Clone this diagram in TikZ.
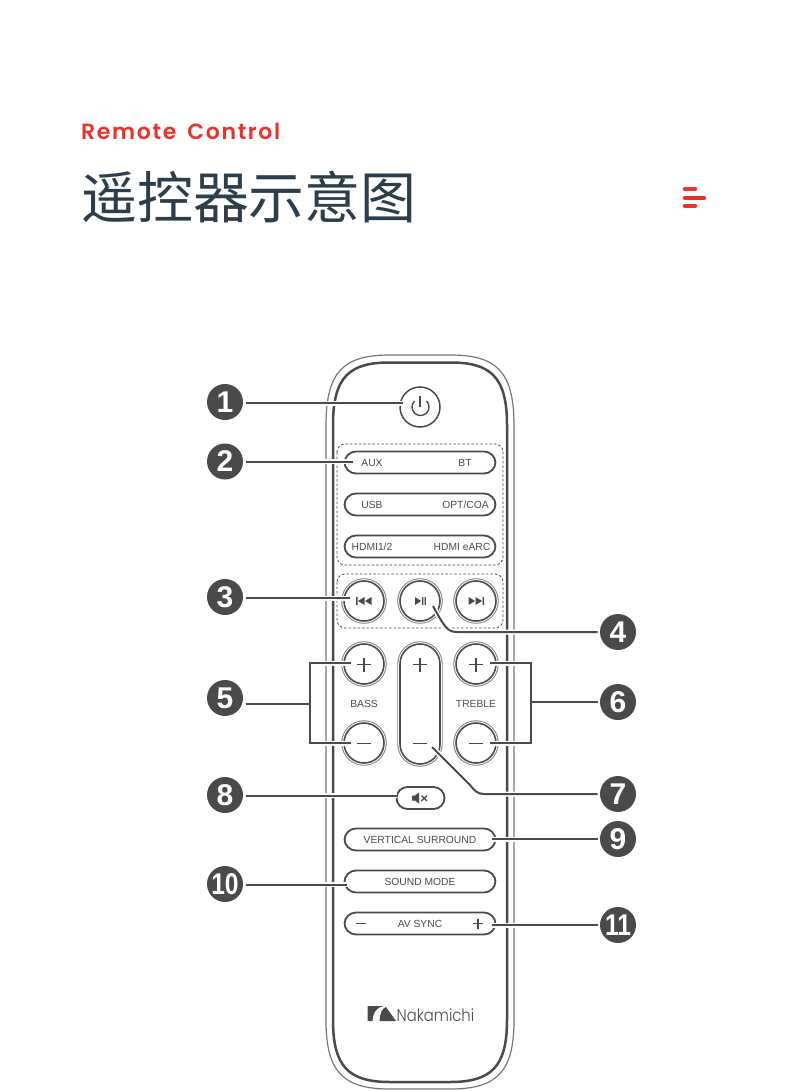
\documentclass[tikz,border=0pt]{standalone}
\usepackage{fontspec}
\setmainfont{Liberation Sans}
\newfontfamily\popfont[LetterSpace=7.5,WordSpace=1.6]{Poppins SemiBold}
\newfontfamily\logofont{Poppins Light}
\newfontfamily\cjkfont{Noto Sans CJK SC}
\definecolor{ink}{HTML}{4A4A4A}
\definecolor{redc}{HTML}{E8332A}
\definecolor{slatec}{HTML}{2D3E4A}
\tikzset{
  numdot/.style={circle,fill=ink,text=white,minimum size=36pt,inner sep=0pt,font=\bfseries\fontsize{30}{30}\selectfont,outer sep=2.5pt},
  pill/.style={draw=ink,line width=1.8pt,rounded corners=11.5pt,minimum width=151pt,minimum height=22pt,inner sep=0pt,fill=white},
  ringed/.style={preaction={draw=ink!75,line width=5.4pt},preaction={draw=white,line width=3.6pt},draw=ink,fill=white,line width=1.6pt,inner sep=0pt},
  roundbtn/.style={circle,ringed,minimum size=40pt},
  lbl/.style={text=ink,font=\fontsize{10.3}{12}\selectfont,inner sep=0pt,anchor=base},
  sym/.style={draw=ink,line width=1.1pt},
  zone/.style={draw=ink,line width=.8pt,dash pattern=on 2.5pt off 2pt,rounded corners=8pt},
  lead/.style={draw=ink,line width=2pt,preaction={draw=white,line width=5pt}},
}
\begin{document}
\begin{tikzpicture}[x=1pt,y=-1pt]
\useasboundingbox (0,0) rectangle (790,1091);
\fill[white] (0,0) rectangle (790,1091);
% heading
\node[anchor=base west,inner sep=0pt,text=redc] (sub) at (81,139.5) {\popfont\fontsize{22}{24}\selectfont Remote Control};
\node[anchor=base west,inner sep=0pt,text=slatec] (ttl) at (81,218.5) {\cjkfont\fontsize{55.9}{60}\selectfont 遥控器示意图};
\draw[redc,line width=4.5pt,line cap=round] (685,189) -- (695,189);
\draw[redc,line width=4.5pt,line cap=round] (685,198) -- (704,198);
\draw[redc,line width=4.5pt,line cap=round] (685,206) -- (695,206);
% body
\draw[ink!75,line width=1.2pt] (326,425) .. controls (326,370) and (345,355) .. (390,355) -- (450,355)
  .. controls (495,355) and (514,370) .. (514,425) -- (514,1020)
  .. controls (514,1072) and (497,1089) .. (450,1089) -- (390,1089)
  .. controls (343,1089) and (326,1072) .. (326,1020) -- cycle;
\draw[ink,line width=2.5pt] (333,425) .. controls (333,376) and (350,362.5) .. (390,362.5) -- (450,362.5)
  .. controls (490,362.5) and (507,376) .. (507,425) -- (507,1020)
  .. controls (507,1066) and (492,1082) .. (450,1082) -- (390,1082)
  .. controls (348,1082) and (333,1066) .. (333,1020) -- cycle;
% dashed zones
\draw[zone] (337,444) rectangle (503,565);
\draw[zone] (337,574) rectangle (503,628);
% power
\node[circle,draw=ink,line width=1.5pt,minimum size=40pt,inner sep=0pt] (pwr) at (420,407) {};
\draw[ink,line width=1.4pt] (414.5,401) arc[start angle=225,end angle=-45,radius=8.5];
\draw[ink,line width=1.4pt] (420,396) -- (420,407);
% input pills
\node[pill] (aux) at (420,462.5) {};
\node[pill] (usb) at (420,504.5) {};
\node[pill] (hdmi) at (420,546.5) {};
\node[lbl] at (372,466) {AUX};
\node[lbl] at (465,466) {BT};
\node[lbl] at (372,508) {USB};
\node[lbl] at (465.5,508) {OPT/COA};
\node[lbl] at (372,550) {HDMI1/2};
\node[lbl] at (462,550) {HDMI eARC};
% transport
\node[roundbtn] (prev) at (364,601) {};
\node[roundbtn] (play) at (420,601) {};
\node[roundbtn] (next) at (476,601) {};
\fill[ink] (356,597) rectangle (357.5,605) (364.5,597) -- (364.5,605) -- (358,601) -- cycle (371.5,597) -- (371.5,605) -- (365,601) -- cycle;
\fill[ink] (415,597) -- (415,605) -- (421,601) -- cycle (422,597) rectangle (423.3,605) (424.5,597) rectangle (425.8,605);
\fill[ink] (468.5,597) -- (468.5,605) -- (475,601) -- cycle (475.5,597) -- (475.5,605) -- (482,601) -- cycle (482.5,597) rectangle (484,605);
% tone buttons
\node[roundbtn] (bassup) at (364,664) {};
\node[roundbtn] (bassdn) at (364,743) {};
\node[roundbtn] (trebup) at (476,664) {};
\node[roundbtn] (trebdn) at (476,743) {};
\draw[sym] (357,664.5) -- (371,664.5) (364,657.5) -- (364,671.5);
\draw[sym] (357,743.5) -- (371,743.5);
\draw[sym] (469,664.5) -- (483,664.5) (476,657.5) -- (476,671.5);
\draw[sym] (469,743.5) -- (483,743.5);
\node[lbl] at (364,707.5) {BASS};
\node[lbl] at (476,707.5) {TREBLE};
% volume
\node[ringed,rounded corners=20pt,minimum width=40pt,minimum height=120pt] (vol) at (420,704) {};
\draw[sym] (413,664.5) -- (427,664.5) (420,657.5) -- (420,671.5);
\draw[sym] (413,743.5) -- (427,743.5);
% mute
\node[draw=ink,line width=1.8pt,rounded corners=11pt,minimum width=48pt,minimum height=22pt,inner sep=0pt,fill=white] (mute) at (420.5,798) {};
\fill[ink] (412,795.5) -- (415,795.5) -- (419,792.5) -- (419,803.5) -- (415,800.5) -- (412,800.5) -- cycle;
\draw[ink,line width=1.1pt] (421.5,795.5) -- (427,801) (427,795.5) -- (421.5,801);
% lower pills
\node[pill] (vs) at (420,839.5) {};
\node[pill] (sm) at (420,881.5) {};
\node[pill] (av) at (420,923.5) {};
\node[lbl] at (420,843.5) {VERTICAL SURROUND};
\node[lbl] at (420,885.5) {SOUND MODE};
\node[lbl] at (420,927.5) {AV SYNC};
\draw[sym] (356,923.5) -- (366,923.5);
\draw[sym] (473,923.5) -- (483,923.5) (478,918.5) -- (478,928.5);
% logo
\fill[ink] (367.5,1021) -- (367.5,1006) -- (384,1006) .. controls (377,1007) and (373,1012) .. (372.5,1021) -- cycle;
\fill[ink] (379.5,1021) .. controls (380,1013) and (382,1008.5) .. (386,1007) -- (396,1021) -- cycle;
\node[anchor=base west,inner sep=0pt,text=ink] (brand) at (396.5,1021) {\logofont\fontsize{17}{18}\selectfont\scalebox{.87}[1]{Nakamichi}};
% free ends inside buttons
\coordinate (e1) at (403,403);
\coordinate (e2) at (353,461.5);
\coordinate (e3) at (350,598);
\coordinate (e4) at (433,606);
\coordinate (e5a) at (351,663);
\coordinate (e5b) at (351,743);
\coordinate (e6a) at (490,663);
\coordinate (e6b) at (490,743);
\coordinate (e7) at (432,747);
\coordinate (e8) at (397,795.5);
\coordinate (e9) at (492,839);
\coordinate (e10) at (347,884.5);
\coordinate (e11) at (492,925);
\coordinate (t5) at (310,704);
\coordinate (t6) at (531,701.5);
% numbered callouts
\node[numdot] (n1) at (225,402) {1};
\node[numdot] (n2) at (225,461.5) {2};
\node[numdot] (n3) at (225,597) {3};
\node[numdot] (n4) at (618,632) {4};
\node[numdot] (n5) at (225,698) {5};
\node[numdot] (n6) at (618,702) {6};
\node[numdot] (n7) at (618,794) {7};
\node[numdot] (n8) at (225,795) {8};
\node[numdot] (n9) at (618,839) {9};
\node[numdot] (n10) at (225,884) {\scalebox{.82}[1]{10}};
\node[numdot] (n11) at (618,925) {\scalebox{.82}[1]{11}};
% connectors
\path[lead] (n1.east|-e1) -- (e1);
\path[lead] (n2.east|-e2) -- (e2);
\path[lead] (n3.east|-e3) -- (e3);
\path[lead] (n4.west) -- (457,632) .. controls (447,632) and (444,626) .. (e4);
\path[lead] (e5a) -- (310,663) -- (310,743) -- (e5b);
\draw[ink,line width=2pt] (n5.east|-t5) -- (t5);
\path[lead] (e6a) -- (531,663) -- (531,743) -- (e6b);
\draw[ink,line width=2pt] (n6.west|-t6) -- (t6);
\path[lead] (n7.west) -- (484,794) .. controls (477,794) and (474,790) .. (470,785) -- (e7);
\path[lead] (n8.east|-e8) -- (e8);
\path[lead] (n9.west|-e9) -- (e9);
\path[lead] (n10.east|-e10) -- (e10);
\path[lead] (n11.west|-e11) -- (e11);
\end{tikzpicture}
\end{document}
